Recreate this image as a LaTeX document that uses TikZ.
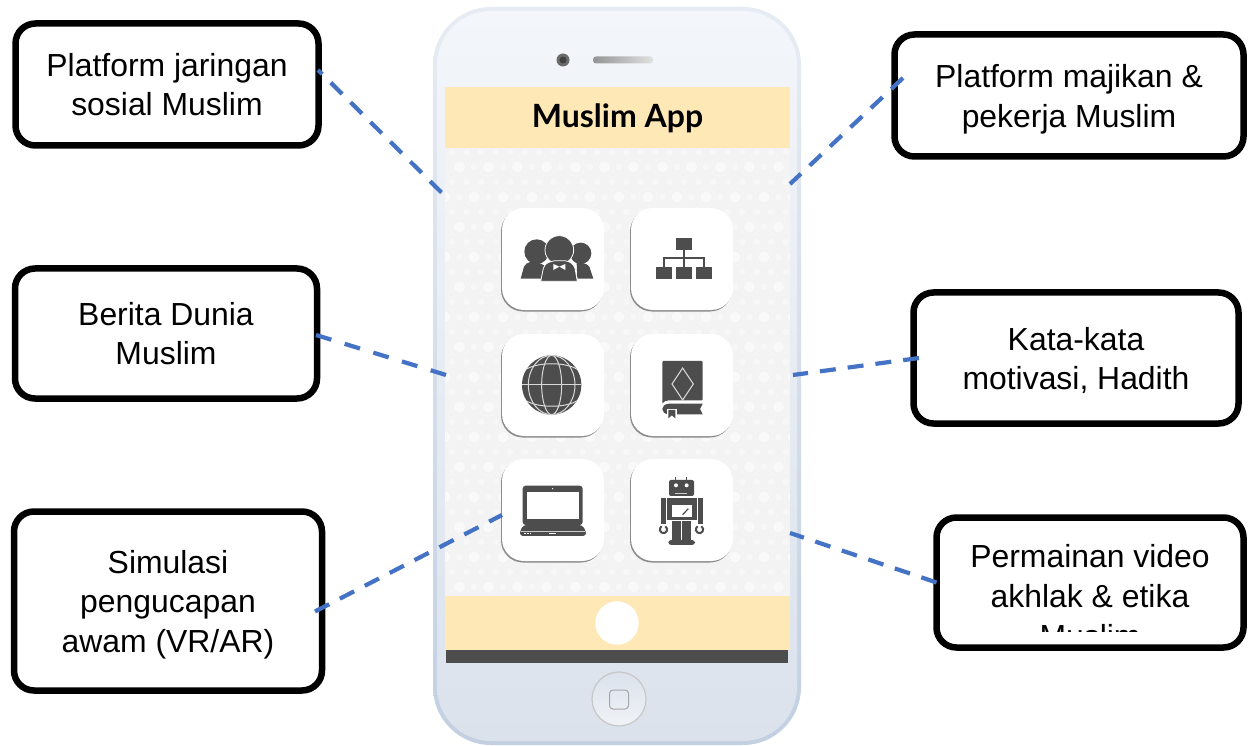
\documentclass[tikz,border=0pt]{standalone}
\usepackage{fontspec}
\setmainfont{Liberation Sans}
\newfontfamily\titlefont{Lato}
\usetikzlibrary{calc}
\definecolor{cream}{HTML}{FEE8B6}
\definecolor{icon}{HTML}{4D4D4E}
\definecolor{conn}{HTML}{4472C4}
\definecolor{patbg}{HTML}{F3F3F3}
\tikzset{
  callout/.style={draw=black,line width=6.5pt,fill=white,rounded corners=20pt,outer sep=0pt,inner sep=0pt},
  calltext/.style={inner sep=0pt,align=center,font=\fontsize{31.9}{39.6}\selectfont},
  link/.style={draw=conn,line width=4.2pt,dash pattern=on 16pt off 12pt},
  tileshadow/.style={fill=black!45,rounded corners=22pt},
  tile/.style={fill=white,rounded corners=22pt},
  ic/.style={fill=icon,draw=none},
  icw/.style={draw=white!85!black,line width=1pt},
}
\newcommand{\tilebox}[2]{%
  \fill[tileshadow] (#1-1,#2+1.5) rectangle ++(102,-102);
  \fill[tile] (#1,#2) rectangle ++(102,-102);
}
\begin{document}
\begin{tikzpicture}[x=1pt,y=-1pt]
\useasboundingbox (0,0) rectangle (1251,746);
\fill[white] (0,0) rectangle (1251,746);
% phone body
\shade[rounded corners=58pt,top color={rgb,255:red,231;green,236;blue,244},bottom color={rgb,255:red,194;green,208;blue,226}] (433,7) rectangle (801,745);
\shade[rounded corners=54pt,top color={rgb,255:red,243;green,246;blue,250},bottom color={rgb,255:red,219;green,226;blue,236},middle color={rgb,255:red,231;green,236;blue,243}] (437,11) rectangle (797,741);
% camera, speaker
\fill[black!58] (563,60) circle (6.5);
\fill[black!75] (563,60) circle (3.5);
\shade[left color=black!42,right color=black!12,rounded corners=3pt] (593,56.5) rectangle (653,63.5);
% screen
\fill[cream] (445,87) rectangle (790,148);
\fill[patbg] (445,148) rectangle (790,596);
\begin{scope}
\clip (445,148) rectangle (790,596);
\foreach \row in {0,...,15}{
  \foreach \col in {0,...,12}{
    \pgfmathsetmacro{\cx}{445+\col*29+mod(\row,2)*14.5}
    \pgfmathsetmacro{\cy}{167+(\row-1)*30}
    \fill[white,opacity=.55] (\cx,\cy) circle (5.5);
    \fill[white,opacity=.4] (\cx+14.5,\cy) circle (3.2);
    \fill[white,opacity=.4] (\cx+7.2,\cy+15) circle (3.2);
    \fill[white,opacity=.4] (\cx-7.2,\cy+15) circle (3.2);
    \draw[black!3,line width=.5pt] (\cx,\cy) circle (9);
  }
}
\end{scope}
\fill[cream] (445,596) rectangle (790,650);
\fill[white] (617,623) circle (21.7);
\fill[icon] (446,650) rectangle (788,663);
\node[font=\titlefont\bfseries\fontsize{32}{36}\selectfont,text=black,inner sep=0pt] (title) at (617.5,118.5) {Muslim App};
% home button
\shade[top color={rgb,255:red,219;green,226;blue,236},bottom color={rgb,255:red,240;green,243;blue,247},draw=black!22,line width=1.2pt] (619,699) circle (27);
\draw[black!35,line width=1pt,rounded corners=3.5pt] (609.5,690) rectangle (628.5,709);
% callouts
\node[callout,minimum width=303pt,minimum height=122pt] (b1) at (167,84.5) {};
\node[calltext] (t1) at (167,84.5) {Platform jaringan\\sosial Muslim};
\node[callout,minimum width=349pt,minimum height=122pt] (b2) at (1069,95.5) {};
\node[calltext] (t2) at (1069,99.5) {Platform majikan \&\\pekerja Muslim};
\node[callout,minimum width=302pt,minimum height=130pt] (b3) at (166,333.5) {};
\node[calltext] (t3) at (166,333.5) {Berita Dunia\\Muslim};
\node[callout,minimum width=325pt,minimum height=131pt] (b4) at (1076,358) {};
\node[calltext] (t4) at (1076,360.5) {Kata-kata\\motivasi, Hadith};
\node[callout,minimum width=308pt,minimum height=179pt] (b5) at (168,601) {};
\node[calltext] (t5) at (168,604.5) {Simulasi\\pengucapan\\awam (VR/AR)};
\node[callout,minimum width=307pt,minimum height=130pt] (b6) at (1090,582.5) {};
\begin{scope}
\clip (945,525) rectangle (1236,631);
\node[calltext] (t6) at (1090,596) {Permainan video\\akhlak \& etika\\Muslim};
\end{scope}
% tiles
\tilebox{502}{310}
\tilebox{631}{310}
\tilebox{502}{436}
\tilebox{631}{436}
\tilebox{502}{561}
\tilebox{631}{561}
% people icon
\begin{scope}[shift={(430,0)},scale=1/3]
  \fill[ic] (272,836) -- (282,800) .. controls (290,785) and (305,785) .. (320,785) -- (350,800) -- (335,836) -- cycle;
  \fill[ic] (490,836) -- (478,800) .. controls (470,788) and (450,788) .. (440,790) -- (442,836) -- cycle;
  \fill[ic] (320,755) circle (37);
  \fill[ic] (452,760) circle (32);
  \filldraw[fill=icon,draw=white,line width=.8pt] (388,750) circle (43);
  \filldraw[fill=icon,draw=white,line width=.8pt] (332,844) -- (340,805) .. controls (345,785) and (365,785) .. (375,782) -- (405,782) .. controls (420,785) and (430,790) .. (435,805) -- (442,844) -- cycle;
  \fill[white] (388,800) -- (370,792) -- (370,810) -- cycle (388,800) -- (406,792) -- (406,810) -- cycle;
\end{scope}
% org chart
\begin{scope}[shift={(430,0)},scale=1/3]
  \fill[ic] (738,713) rectangle (785,750);
  \fill[ic] (678,800) rectangle (725,838);
  \fill[ic] (738,800) rectangle (785,838);
  \fill[ic] (798,800) rectangle (845,838);
  \draw[icon,line width=2pt] (761,750) -- (761,800);
  \draw[icon,line width=2pt] (701,800) -- (701,773) -- (821,773) -- (821,800);
\end{scope}
\begin{scope}[shift={(490,320)},scale=1/3]
  % globe
  \fill[ic] (185,195) circle (89);
  \begin{scope}
    \clip (185,195) circle (89);
    \draw[icw] (185,195) ellipse (30 and 89);
    \draw[icw] (185,195) ellipse (70 and 89);
    \draw[icw] (96,195) -- (274,195);
    \draw[icw] (105,150) .. controls (140,125) and (230,125) .. (265,150);
    \draw[icw] (105,240) .. controls (140,265) and (230,265) .. (265,240);
  \end{scope}
  % book
  \fill[ic,rounded corners=1pt] (517,252) -- (517,123) -- (638,123) -- (638,241) -- (540,241) .. controls (530,241) and (520,244) .. (517,252) -- cycle;
  \draw[icw] (578,144) -- (610,192) -- (578,240) -- (546,192) -- cycle;
  \fill[ic] (638,251) -- (537,251) .. controls (510,253) and (510,282) .. (537,283) -- (638,283) -- (630,267) -- cycle;
  \fill[white] (530,268) rectangle (560,298);
  \fill[ic] (535,270) -- (556,270) -- (556,295) -- (545.5,286) -- (535,295) -- cycle;
  % laptop
  \fill[ic,rounded corners=3pt] (98,615) -- (98,497) -- (278,497) -- (278,615) -- cycle;
  \fill[white] (110,515) rectangle (267,597);
  \fill[white] (188,506) circle (2);
  \fill[ic,rounded corners=3pt] (100,615) -- (276,615) -- (288,633) -- (288,648) -- (90,648) -- (90,633) -- cycle;
  \draw[white!80!black,line width=.5pt] (92,634) -- (286,634);
  \draw[white,line width=.8pt,dash pattern=on 1.5pt off 1.5pt] (102,640) -- (122,640);
  \draw[white,line width=.8pt] (177,640) -- (199,640);
  % robot
  \fill[ic] (555,470) rectangle (559,482);
  \fill[ic] (587,470) rectangle (591,482);
  \fill[ic,rounded corners=2pt] (537,480) rectangle (612,528);
  \fill[white] (558,496) circle (6);
  \fill[white] (590,496) circle (6);
  \draw[white!80!black,line width=.8pt] (555,519) -- (592,519);
  \fill[ic] (530,534) rectangle (620,600);
  \fill[white] (545,556) rectangle (605,590);
  \draw[icon,line width=1.2pt] (578,584) -- (595,566);
  \fill[ic] (512,534) rectangle (527,612);
  \fill[ic] (623,534) rectangle (638,612);
  \draw[icon,line width=2pt] (526,619) arc (-60:240:11);
  \draw[icon,line width=2pt] (634,619) arc (-60:240:11);
  \fill[ic] (547,604) rectangle (573,660);
  \fill[ic] (577,604) rectangle (603,660);
  \fill[ic,rounded corners=3pt] (535,660) rectangle (585,675);
  \fill[ic,rounded corners=3pt] (570,660) rectangle (615,675);
\end{scope}
% connectors
\coordinate (p1) at (441.5,192.5);
\coordinate (p2) at (790,184);
\coordinate (p3) at (446,375);
\coordinate (p4) at (793,375);
\coordinate (p5) at (502,515);
\coordinate (p6) at (790,533);
\coordinate (s1) at ($(b1.east)+(-0.5,-14.5)$);
\coordinate (s2) at ($(b2.west)+(8.5,-17.5)$);
\coordinate (s3) at ($(b3.east)+(-1,1.5)$);
\coordinate (s4) at ($(b4.west)+(5.5,0)$);
\coordinate (s5) at ($(b5.east)+(-7,10.5)$);
\coordinate (s6) at ($(b6.west)+(0,0)$);
\draw[link] (p1) -- (s1);
\draw[link] (s2) -- (p2);
\draw[link,dash pattern=on 16pt off 14pt] (s3) -- (p3);
\draw[link] (s4) -- (p4);
\draw[link] (s5) -- (p5);
\draw[link] (s6) -- (p6);
\end{tikzpicture}
\end{document}
